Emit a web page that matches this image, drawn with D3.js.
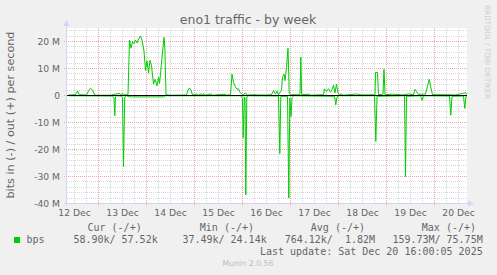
<!DOCTYPE html>
<html>
<head>
<meta charset="utf-8">
<script src="https://d3js.org/d3.v7.min.js"></script>
<style>
  html, body { margin: 0; padding: 0; background: #f0f0f0; }
  svg text { font-family: "DejaVu Sans", sans-serif; fill: #666; }
  .mono { font-family: "DejaVu Sans Mono", monospace; white-space: pre; }
</style>
</head>
<body>
<script>
// times are hours after 12 Dec 2025 00:00, values in Mbit/s
const outData = [
  [9, 0.2], [12.5, 0.3], [13.5, 1.7], [14.25, 0.3], [18, 0.2], [19.25, 2.0], [20, 2.7], [21, 2.0],
  [22, 0.3], [23, 0.1], [30, 0.1], [34.5, 0.8], [35, 0.2], [36, 0.8], [36.5, 0.2], [38.75, 0.3],
  [39.5, 20.5], [40.25, 17.5], [41, 20], [41.75, 19.2], [42.5, 20.5], [43.25, 19.5], [44.25, 21.2],
  [45, 22], [45.75, 20.5], [46.75, 16.5], [47.5, 9.3], [48.25, 12.8], [49, 8.3], [49.75, 13],
  [50.5, 11], [51.5, 4.2], [52.25, 6], [53.25, 3.6], [54, 6.7], [54.5, 4.5], [55, 8], [55.75, 14],
  [56.75, 21.5], [57.15, 18], [57.75, 0.3], [60, 0.1], [68, 0.2], [68.75, 2.0], [69.5, 2.8],
  [70.25, 2.0], [71, 0.2], [73.25, 0.6], [74, 0.1], [75.25, 0.6], [76, 0.1], [76.5, 0.8], [77, 0.1],
  [80.25, 0.6], [81, 0.1], [87.25, 0.5], [88, 0.1], [90, 0.3], [90.75, 7.9], [91.5, 4.8],
  [92.25, 3.5], [93.25, 2.3], [94, 2.5], [94.75, 1.2], [95.5, 0.6], [96.5, 0.2], [97.5, 1.0],
  [98.25, 0.1], [101, 0.3], [103.5, 0.2], [107.5, 0.2], [110.5, 0.3], [111.5, 1.8], [112.5, 0.5],
  [113.25, 1.7], [114, 0.3], [115.5, 2], [116, 6.7], [116.75, 7.9], [117.25, 5.5], [118, 10.4],
  [118.75, 17.5], [119.35, 1.0], [120, 0.3], [124.75, 0.3], [125.15, 14.2], [125.6, 0.3],
  [129.5, 0.5], [130, 0.1], [132.5, 0.2], [136.5, 0.3], [137, 2.5], [138, 1.5], [139, 2.5],
  [140, 1.2], [140.75, 2.2], [141.5, 3.8], [142.25, 1.0], [143, 4.2], [143.75, 1.0], [144.5, 0.3],
  [145.5, 0.5], [146.5, 0.1], [152, 0.5], [153.5, 0.5], [156, 0.2], [162.25, 0.3], [162.5, 8.5],
  [163.5, 8.5], [164, 0.3], [166.25, 0.5], [166.75, 9.7], [167.25, 0.3], [171, 0.5], [176, 0.2],
  [179, 0.6], [181.5, 0.3], [182.25, 2.3], [183, 1.5], [184, 0.3], [185, 0.5], [187.5, 0.5],
  [188.5, 3.5], [189.35, 6], [190, 3.5], [191, 0.3], [198.5, 0.3], [202.5, 0.2], [206, 0.8],
  [207.75, 1.0], [208.5, 0.3]
];

const inData = [
  [9, -0.1], [31, -0.2], [31.75, -1], [32.15, -7.5], [32.5, -0.5], [33, -0.1], [35.5, -0.2],
  [36, -1], [36.5, -26.4], [37.1, -0.5], [38, -0.1], [39.5, -0.5], [56.5, -0.5], [57.5, -0.1],
  [95, -0.1], [96, -1], [96.35, -15.6], [96.9, -0.5], [97.25, -1], [97.65, -36.8], [98.15, -0.5],
  [99, -0.1], [114, -0.2], [114.65, -21.5], [115.15, -0.3], [118.5, -0.3], [119.15, -38],
  [119.65, -1], [120.25, -7.8], [120.75, -0.8], [121.5, -0.1], [142, -0.3], [142.65, -3.5],
  [143.25, -0.5], [144.5, -0.1], [162, -0.1], [162.65, -17], [163.25, -0.3], [177, -0.1],
  [177.5, -30], [178, -0.3], [185, -0.1], [185.9, -1.8], [186.5, -0.1], [199.5, -0.2],
  [200.15, -7.3], [200.75, -0.3], [206.5, -0.2], [207.15, -4.8], [207.75, -0.2], [208.5, -0.1]
];

const yTicks = [-40, -30, -20, -10, 0, 10, 20];
const dayLabels = ['12 Dec', '13 Dec', '14 Dec', '15 Dec', '16 Dec', '17 Dec', '18 Dec', '19 Dec', '20 Dec'];
const legendHeads = ['Cur (-/+)', 'Min (-/+)', 'Avg (-/+)', 'Max (-/+)'];
const legendValues = ['58.90k/ 57.52k', '37.49k/ 24.14k', '764.12k/  1.82M', '159.73M/ 75.75M'];
const seriesName = 'bps';
const lastUpdate = 'Last update: Sat Dec 20 16:00:05 2025';

const width = 497;
const height = 275;
const plotL = 67, plotR = 467, plotT = 28, plotB = 203.5;
const t0 = Date.UTC(2025, 11, 12);
const toDate = h => new Date(t0 + h * 3600e3);

const x = d3.scaleUtc()
  .domain([toDate(8.25), toDate(208.25)])
  .range([plotL, plotR]);
const y = d3.scaleLinear()
  .domain([-40, 25])
  .range([plotB, plotT]);

const svg = d3.select('body').append('svg')
  .attr('width', width)
  .attr('height', height)
  .style('display', 'block');

svg.append('rect').attr('width', width).attr('height', height).attr('fill', '#f0f0f0');
svg.append('rect')
  .attr('x', plotL).attr('y', plotT)
  .attr('width', plotR - plotL).attr('height', plotB - plotT)
  .attr('fill', '#fff');

const crisp = v => Math.round(v - 0.5) + 0.5;

// minor grid
const grid = svg.append('g').attr('stroke-dasharray', '1,1').attr('stroke-width', 1);
const minorTimes = d3.utcHour.every(6).range(x.domain()[0], x.domain()[1]);
grid.selectAll('.vmin').data(minorTimes.filter(d => d.getUTCHours() !== 0)).enter()
  .append('line')
  .attr('x1', d => crisp(x(d))).attr('x2', d => crisp(x(d)))
  .attr('y1', plotT).attr('y2', plotB)
  .attr('stroke', '#d8d8d8');
grid.selectAll('.hmin').data(d3.range(-40, 25, 2).filter(v => v % 10 !== 0)).enter()
  .append('line')
  .attr('x1', plotL).attr('x2', plotR)
  .attr('y1', d => crisp(y(d))).attr('y2', d => crisp(y(d)))
  .attr('stroke', '#d8d8d8');

// major grid
const days = d3.utcDay.range(x.domain()[0], x.domain()[1]);
grid.selectAll('.vmaj').data(days).enter()
  .append('line')
  .attr('x1', d => crisp(x(d))).attr('x2', d => crisp(x(d)))
  .attr('y1', plotT).attr('y2', plotB + 3)
  .attr('stroke', '#eba3a3');
grid.selectAll('.hmaj').data(yTicks).enter()
  .append('line')
  .attr('x1', plotL - 3).attr('x2', plotR)
  .attr('y1', d => crisp(y(d))).attr('y2', d => crisp(y(d)))
  .attr('stroke', '#eba3a3');

// axes
const axisColor = '#cfd6f8';
svg.append('line')
  .attr('x1', plotL - 0.5).attr('x2', plotL - 0.5)
  .attr('y1', 24).attr('y2', plotB + 3)
  .attr('stroke', axisColor);
svg.append('line')
  .attr('x1', plotL - 3).attr('x2', plotR + 2)
  .attr('y1', crisp(plotB)).attr('y2', crisp(plotB))
  .attr('stroke', axisColor);
svg.append('path')
  .attr('d', `M${plotL - 3.5},26 L${plotL - 0.5},20 L${plotL + 2.5},26 Z`)
  .attr('fill', axisColor);
svg.append('path')
  .attr('d', `M${plotR + 1},${crisp(plotB) - 3} L${plotR + 7},${crisp(plotB)} L${plotR + 1},${crisp(plotB) + 3} Z`)
  .attr('fill', axisColor);

// tick labels
svg.append('g').selectAll('text').data(yTicks).enter()
  .append('text')
  .attr('x', 60)
  .attr('y', d => y(d) + 3.3)
  .attr('text-anchor', 'end')
  .style('font-size', '9.2px')
  .text(d => d === 0 ? '0' : `${d} M`);

svg.append('g').selectAll('text').data(dayLabels).enter()
  .append('text')
  .attr('x', (d, i) => x(d3.utcHour.offset(days[0], i * 24 - 12)))
  .attr('y', 215.5)
  .attr('text-anchor', 'middle')
  .style('font-size', '9.2px')
  .text(d => d);

// data lines
svg.append('clipPath').attr('id', 'plot')
  .append('rect').attr('x', plotL).attr('y', plotT).attr('width', plotR - plotL).attr('height', plotB - plotT);

const line = d3.line()
  .x(d => x(toDate(d[0])))
  .y(d => y(d[1]));

const lines = svg.append('g').attr('clip-path', 'url(#plot)');
[inData, outData].forEach(series => {
  lines.append('path')
    .datum(series)
    .attr('d', line)
    .attr('fill', 'none')
    .attr('stroke', '#00cc00')
    .attr('stroke-width', 1);
});

// zero rule
svg.append('line')
  .attr('x1', plotL).attr('x2', plotR)
  .attr('y1', crisp(y(0))).attr('y2', crisp(y(0)))
  .attr('stroke', '#000');

// title and labels
svg.append('text')
  .attr('x', 248).attr('y', 23.5)
  .attr('text-anchor', 'middle')
  .style('font-size', '12.5px')
  .text('eno1 traffic - by week');

svg.append('text')
  .attr('transform', 'translate(14,115) rotate(-90)')
  .attr('text-anchor', 'middle')
  .style('font-size', '11.2px')
  .text('bits in (-) / out (+) per second');

svg.append('text')
  .attr('transform', 'translate(485,5) rotate(90)')
  .style('font-size', '7.3px')
  .style('fill', '#cfcfcf')
  .text('RRDTOOL / TOBI OETIKER');

// legend
const headEnds = [141.7, 254, 365, 476];
const valueEnds = [157.7, 266.7, 375, 482.7];
svg.append('g').selectAll('text').data(legendHeads).enter()
  .append('text')
  .attr('class', 'mono')
  .attr('x', (d, i) => headEnds[i])
  .attr('y', 230.7)
  .attr('text-anchor', 'end')
  .style('font-size', '10px')
  .text(d => d);

svg.append('rect')
  .attr('x', 14).attr('y', 237).attr('width', 6).attr('height', 6)
  .attr('fill', '#00cc00');
svg.append('text')
  .attr('class', 'mono')
  .attr('x', 26.5).attr('y', 242.7)
  .style('font-size', '10px')
  .text(seriesName);

svg.append('g').selectAll('text').data(legendValues).enter()
  .append('text')
  .attr('class', 'mono')
  .attr('x', (d, i) => valueEnds[i])
  .attr('y', 242.7)
  .attr('text-anchor', 'end')
  .style('font-size', '10px')
  .text(d => d);

svg.append('text')
  .attr('class', 'mono')
  .attr('x', 482.7).attr('y', 255)
  .attr('text-anchor', 'end')
  .style('font-size', '10px')
  .text(lastUpdate);

svg.append('text')
  .attr('x', 248).attr('y', 266)
  .attr('text-anchor', 'middle')
  .style('font-size', '7.8px')
  .style('fill', '#bcbcbc')
  .text('Munin 2.0.56');
</script>
</body>
</html>
